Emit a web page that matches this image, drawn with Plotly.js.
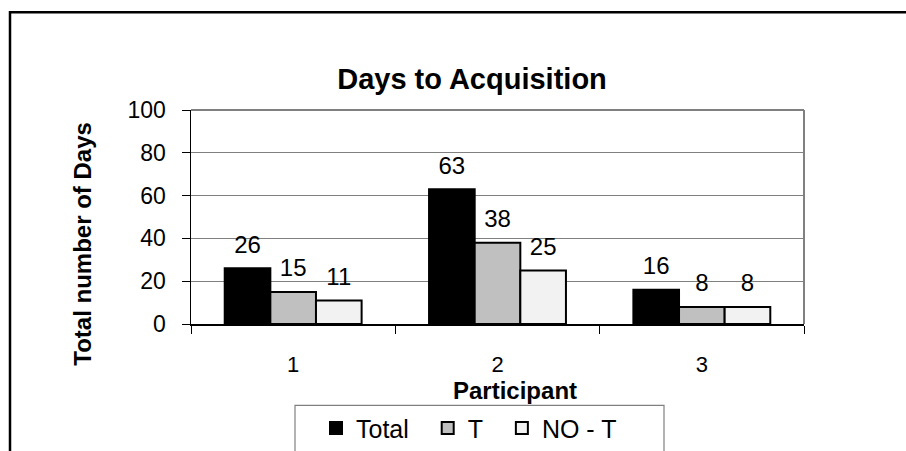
<!DOCTYPE html>
<html>
<head>
<meta charset="utf-8">
<script src="https://cdn.plot.ly/plotly-3.0.1.min.js"></script>
<style>
html,body{margin:0;padding:0;background:#fff;}
#chart{width:906px;height:451px;}
</style>
</head>
<body>
<div id="chart"></div>
<script>
// ---- data ----
const categories = ['1', '2', '3'];
const seriesNames = ['Total', 'T', 'NO - T'];
const totalValues = [26, 63, 16];
const tValues = [15, 38, 8];
const noTValues = [11, 25, 8];
const yTickValues = [0, 20, 40, 60, 80, 100];
const chartTitle = 'Days to Acquisition';
const xTitle = 'Participant';
const yTitle = 'Total number of Days';

// ---- layout geometry ----
const W = 906, H = 451;
const M = {l: 191, r: 102, t: 110, b: 126.5};
const PW = W - M.l - M.r, PH = H - M.t - M.b;
const px = x => (x - M.l) / PW;          // pixel -> paper x
const py = y => (H - M.b - y) / PH;      // pixel -> paper y
const FONT = '"Liberation Sans", Arial, Helvetica, sans-serif';

const fills = ['#000000', '#c0c0c0', '#f2f2f2'];
const values = [totalValues, tValues, noTValues];
const pad = ['\u00a0\u00a0', '\u00a0\u00a0', ''];

const traces = values.map((vals, i) => ({
  type: 'bar',
  name: seriesNames[i] + pad[i],
  x: categories,
  y: vals,
  marker: {color: fills[i], line: {color: '#000000', width: 2}},
  text: vals.map(String),
  texttemplate: "<span style='font-size:24px'>%{y}</span><br><span style='color:rgba(0,0,0,0)'>.</span>",
  textposition: 'outside',
  textfont: {family: FONT, size: 8, color: '#000000'},
  constraintext: 'none',
  cliponaxis: false,
  hoverinfo: 'skip'
}));

const layout = {
  width: W, height: H,
  margin: {l: M.l, r: M.r, t: M.t, b: M.b, autoexpand: false},
  paper_bgcolor: '#ffffff',
  plot_bgcolor: '#ffffff',
  font: {family: FONT, color: '#000000'},
  barmode: 'group',
  bargap: 0.33,
  bargroupgap: 0,
  showlegend: true,
  title: {
    text: '<b>' + chartTitle + '</b>',
    font: {family: FONT, size: 29, color: '#000000'},
    xref: 'paper', x: px(472), xanchor: 'center',
    yref: 'container', y: 1 - 79 / H, yanchor: 'middle'
  },
  xaxis: {
    type: 'category',
    range: [-0.5, 2.5],
    showline: true, linecolor: '#000000', linewidth: 1.5,
    ticks: 'outside', tickson: 'boundaries', ticklen: 8, tickcolor: '#000000', tickwidth: 1,
    tickfont: {family: FONT, size: 22, color: '#000000'},
    ticklabelstandoff: 20,
    showgrid: false, zeroline: false, fixedrange: true
  },
  yaxis: {
    range: [0, 100],
    tickmode: 'array', tickvals: yTickValues, ticktext: yTickValues.map(String),
    showline: true, linecolor: '#000000', linewidth: 1.5,
    ticks: 'outside', ticklen: 8, tickcolor: '#000000', tickwidth: 1,
    tickfont: {family: FONT, size: 23, color: '#000000'},
    ticklabelstandoff: 11,
    showgrid: true, gridcolor: '#808080', gridwidth: 1,
    zeroline: false, fixedrange: true
  },
  legend: {
    orientation: 'h',
    x: px(316), xanchor: 'left',
    y: py(429), yanchor: 'middle',
    bgcolor: 'rgba(0,0,0,0)', borderwidth: 0,
    font: {family: FONT, size: 25, color: '#000000'},
    traceorder: 'normal'
  },
  annotations: [
    {text: '<b>' + xTitle + '</b>', xref: 'paper', yref: 'paper',
     x: px(514.5), y: py(391.5), xanchor: 'center', yanchor: 'middle',
     showarrow: false, font: {family: FONT, size: 24, color: '#000000'}},
    {text: '<b>' + yTitle + '</b>', xref: 'paper', yref: 'paper',
     x: px(83), y: py(244), xanchor: 'center', yanchor: 'middle', textangle: -90,
     showarrow: false, font: {family: FONT, size: 24, color: '#000000'}}
  ],
  shapes: [
    // outer chart frame (extends past the right and bottom edges)
    {type: 'rect', xref: 'paper', yref: 'paper', x0: px(10), x1: px(940), y0: py(12), y1: py(480),
     line: {color: '#000000', width: 2.5}, fillcolor: 'rgba(0,0,0,0)', layer: 'above'},
    // plot area top and right border
    {type: 'line', xref: 'paper', yref: 'paper', x0: 0, x1: 1, y0: 1, y1: 1,
     line: {color: '#808080', width: 2}},
    {type: 'line', xref: 'paper', yref: 'paper', x0: 1, x1: 1, y0: 0, y1: 1,
     line: {color: '#808080', width: 2}},
    // legend box
    {type: 'rect', xref: 'paper', yref: 'paper', x0: px(295), x1: px(664), y0: py(406), y1: py(470),
     line: {color: '#808080', width: 1.2}, fillcolor: 'rgba(0,0,0,0)'}
  ]
};

Plotly.newPlot('chart', traces, layout, {displayModeBar: false, staticPlot: true});
</script>
</body>
</html>
